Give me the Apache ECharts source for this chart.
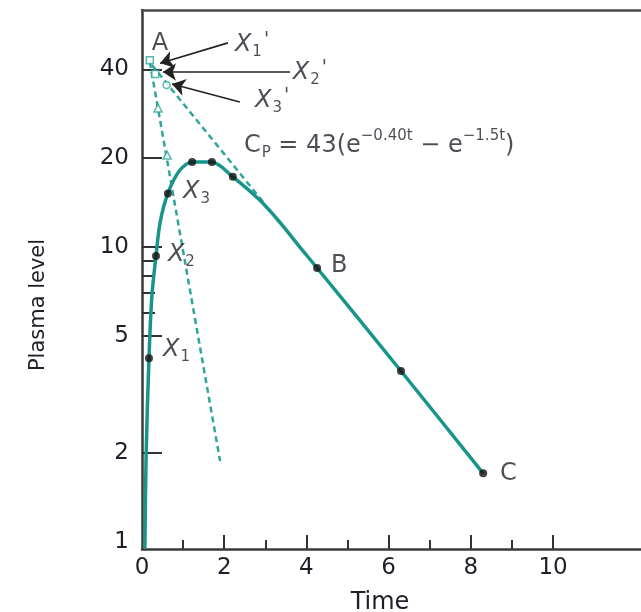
<!DOCTYPE html>
<html><head><meta charset="utf-8">
<script src="https://cdn.jsdelivr.net/npm/echarts@6/dist/echarts.min.js"></script>
<style>html,body{margin:0;padding:0;background:#fff}#chart{width:641px;height:612px}</style>
</head><body><div id="chart"></div>
<script>
// ---- data ----
const curveT = [0.07, 0.10, 0.17, 0.24, 0.34, 0.44, 0.63, 0.92, 1.22, 1.70, 2.21, 2.87, 3.36, 3.84, 4.26, 6.30, 8.30];
const curveY = [0.95, 1.97, 4.20, 6.8, 9.32, 12.1, 15.2, 18.2, 19.4, 19.4, 17.3, 14.4, 12.1, 10.0, 8.49, 3.80, 1.71];
const dotT = [0.17, 0.34, 0.63, 1.22, 1.70, 2.21, 4.26, 6.30, 8.30];
const dotY = [4.20, 9.32, 15.2, 19.4, 19.4, 17.3, 8.49, 3.80, 1.71];
const terminalT = [0.24, 2.95];
const terminalY = [41.4, 14.2];
const residualT = [0.19, 1.90];
const residualY = [42.4, 1.88];
const extrapT = [0.19, 0.32, 0.60];
const extrapY = [43.0, 38.6, 35.4];
const extrapShape = ['rect', 'rect', 'circle'];
const residPtT = [0.39, 0.61];
const residPtY = [29.6, 20.5];
const xTickLabels = [0, 2, 4, 6, 8, 10];
const xMajorTicks = [2, 4, 6, 8, 10];
const xMinorTicks = [1, 3, 5, 7, 9];
const yTickLabels = [1, 2, 5, 10, 20, 40];
const yMajorTicks = [2, 5, 10, 20, 40];
const yMinorTicks = [6, 7, 8, 9];
const labelText = ['{n|A}', '{x|X}{sub|1}{pr|\'}', '{x|X}{sub|2}{pr|\'}', '{x|X}{sub|3}{pr|\'}',
  '{n|C}{sub|P}{n| = 43(e}{sup|\u22120.40t}{n| \u2212 e}{sup|\u22121.5t}{n|)}',
  '{x|X}{sub|3}', '{x|X}{sub|2}', '{x|X}{sub|1}', '{n|B}', '{n|C}'];
const labelT = [0.24, 2.26, 3.67, 2.75, 2.48, 1.00, 0.63, 0.51, 4.60, 8.71];
const labelY = [48.8, 48.4, 38.9, 31.3, 22.0, 15.4, 9.40, 4.48, 8.62, 1.71];
const arrowFromT = [2.09, 3.60, 2.38];
const arrowFromY = [49.2, 39.2, 31.0];
const arrowToT = [0.44, 0.51, 0.73];
const arrowToY = [42.0, 39.2, 35.7];

const TEAL = '#17958a', DASH = '#2fa699', INK = '#1f1f2a', FONT = 'DejaVu Sans';
const zip = (a, b) => a.map((v, i) => [v, b[i]]);

const chart = echarts.init(document.getElementById('chart'));
const xBase = { type: 'value', min: 0, max: 12.14, splitLine: { show: false } };
const yBase = { type: 'log', logBase: 10, min: 0.947, max: 63.6, splitLine: { show: false } };
chart.setOption({
  animation: false,
  backgroundColor: '#fff',
  grid: { left: 142, top: 10, bottom: 63, right: 0, show: false },
  xAxis: [
    Object.assign({}, xBase, {
      axisLine: { show: true, lineStyle: { color: '#3a3a3a', width: 2.5 } },
      axisTick: { show: true, inside: true, length: 14, customValues: xMajorTicks, lineStyle: { color: '#333', width: 2 } },
      axisLabel: { customValues: xTickLabels, fontSize: 23, fontFamily: FONT, color: INK, margin: 8 }
    }),
    Object.assign({}, xBase, {
      position: 'bottom',
      axisLine: { show: false },
      axisTick: { show: true, inside: true, length: 9, customValues: xMinorTicks, lineStyle: { color: '#333', width: 2 } },
      axisLabel: { show: false }
    }),
    Object.assign({}, xBase, {
      position: 'top',
      axisLine: { show: true, lineStyle: { color: '#4a4a4a', width: 2.5 } },
      axisTick: { show: false },
      axisLabel: { show: false }
    })
  ],
  yAxis: [
    Object.assign({}, yBase, {
      axisLine: { show: true, lineStyle: { color: '#3a3a3a', width: 2.5 } },
      axisTick: { show: true, inside: true, length: 20, customValues: yMajorTicks, lineStyle: { color: '#333', width: 2 } },
      axisLabel: { customValues: yTickLabels, fontSize: 23, fontFamily: FONT, color: INK, margin: 13 }
    }),
    Object.assign({}, yBase, {
      position: 'left',
      axisLine: { show: false },
      axisTick: { show: true, inside: true, length: 13, customValues: yMinorTicks, lineStyle: { color: '#333', width: 2 } },
      axisLabel: { show: false }
    })
  ],
  graphic: [
    { type: 'text', x: 380, y: 603, style: { text: 'Time', fontSize: 24, fontFamily: FONT, fill: INK, align: 'center', verticalAlign: 'middle' } },
    { type: 'text', x: 39, y: 305, rotation: Math.PI / 2, style: { text: 'Plasma level', fontSize: 21, fontFamily: FONT, fill: INK, align: 'center', verticalAlign: 'middle' } }
  ],
  series: [
    { type: 'line', data: zip(terminalT, terminalY), showSymbol: false, silent: true,
      lineStyle: { color: DASH, width: 2.5, type: [6, 4] } },
    { type: 'line', data: zip(residualT, residualY), showSymbol: false, silent: true,
      lineStyle: { color: DASH, width: 2.5, type: [6, 4] } },
    { type: 'line', data: zip(curveT, curveY), showSymbol: false, smooth: 0.3, silent: true,
      lineStyle: { color: TEAL, width: 3.5 } },
    { type: 'scatter', data: zip(dotT, dotY), symbolSize: 8, itemStyle: { color: '#111' }, z: 5 },
    { type: 'scatter', data: extrapT.map((t, i) => ({ value: [t, extrapY[i]], symbol: extrapShape[i] })),
      symbolSize: 7, itemStyle: { color: '#fff', borderColor: DASH, borderWidth: 1.5 }, z: 5 },
    { type: 'scatter', data: zip(residPtT, residPtY), symbol: 'triangle', symbolSize: 8,
      itemStyle: { color: '#fff', borderColor: DASH, borderWidth: 1.5 }, z: 5 },
    { type: 'scatter', data: [], silent: true,
      markLine: { silent: true, symbol: ['none', 'arrow'], symbolSize: 13, label: { show: false },
        lineStyle: { color: '#222', width: 1.6, type: 'solid' },
        data: arrowFromT.map((t, i) => [{ coord: [t, arrowFromY[i]] }, { coord: [arrowToT[i], arrowToY[i]] }]) } },
    { type: 'scatter', symbolSize: 0, silent: true, z: 6,
      data: labelT.map((t, i) => ({ value: [t, labelY[i]], name: labelText[i] })),
      label: { show: true, position: [0, 0], align: 'left', verticalAlign: 'middle', formatter: p => p.name,
        rich: {
          n: { fontSize: 24, fontFamily: FONT, color: INK },
          x: { fontSize: 24, fontFamily: FONT, fontStyle: 'italic', color: INK },
          sub: { fontSize: 15, fontFamily: FONT, color: INK, padding: [15, 0, 0, 1] },
          sup: { fontSize: 15, fontFamily: FONT, color: INK, padding: [0, 0, 19, 0] },
          pr: { fontSize: 19, fontFamily: FONT, color: INK, padding: [0, 0, 10, 2] }
        } } }
  ]
});
</script></body></html>
